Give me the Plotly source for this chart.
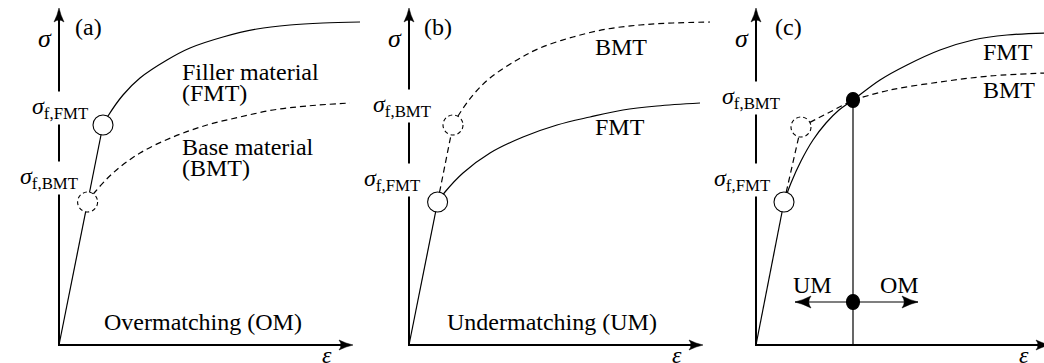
import plotly.graph_objects as go

# ---------------------------------------------------------------------------
# Schematic stress-strain curves (arbitrary units)
# ---------------------------------------------------------------------------
# yield points on the common elastic line
yield_high = (0.44, 2.20)
yield_low = (0.286, 1.43)

# hardening curve that starts at the higher yield point
hard_high_strain = [0.44, 0.49, 0.64, 0.81, 1.08, 1.31, 1.64, 1.98, 2.31, 2.64, 3.01]
hard_high_stress = [2.20, 2.29, 2.50, 2.67, 2.85, 2.97, 3.08, 3.16, 3.20, 3.22, 3.23]

# hardening curve that starts at the lower yield point
hard_low_strain = [0.286, 0.36, 0.54, 0.81, 1.14, 1.48, 1.81, 2.14, 2.48, 2.91]
hard_low_stress = [1.43, 1.53, 1.72, 1.92, 2.08, 2.20, 2.28, 2.35, 2.39, 2.42]

# panel (c): curves that cross each other
c_yield_fmt = (0.28, 1.43)
c_yield_bmt = (0.45, 2.18)
c_cross = (0.97, 2.45)
c_fmt_strain = [0.28, 0.35, 0.45, 0.57, 0.70, 0.83, 0.97, 1.24, 1.51, 1.84, 2.17, 2.51, 2.90]
c_fmt_stress = [1.43, 1.62, 1.84, 2.05, 2.22, 2.35, 2.45, 2.65, 2.80, 2.95, 3.05, 3.10, 3.12]
c_bmt_strain_post = [0.97, 1.34, 1.84, 2.34, 2.90]
c_bmt_stress_post = [2.45, 2.55, 2.63, 2.69, 2.72]
c_marker_stress = 0.43
c_arrow_strain = [0.39, 1.62]

# axis extents
axis_tip_strain = 2.94
axis_tip_stress = 3.37

panel_tags = ["(a)", "(b)", "(c)"]
panel_titles = ["Overmatching (OM)", "Undermatching (UM)"]

FONT = "Liberation Serif"
FS = 24
W, H = 1044, 363
PX = 100.0  # pixels per unit

# subplot placement (pixels): left edge of domain, right edge, origin x
panels = [(0, 365, 59), (350, 715, 409), (697, 1044, 756)]

fig = go.Figure()
layout = dict(
    width=W, height=H, margin=dict(l=0, r=0, t=0, b=0),
    paper_bgcolor="white", plot_bgcolor="rgba(0,0,0,0)",
    showlegend=False,
)
y_range = [-18 / PX, (H - 18) / PX]
for i, (left, right, x0) in enumerate(panels):
    sfx = "" if i == 0 else str(i + 1)
    layout["xaxis" + sfx] = dict(domain=[left / W, right / W],
                                 range=[(left - x0) / PX, (right - x0) / PX],
                                 visible=False, anchor="y" + sfx, fixedrange=True)
    layout["yaxis" + sfx] = dict(domain=[0, 1], range=y_range, visible=False,
                                 anchor="x" + sfx, fixedrange=True)
fig.update_layout(**layout)

SOLID = dict(color="black", width=1.2)
DASHED = dict(color="black", width=1.2, dash="6px,4px")


def refs(i):
    sfx = "" if i == 0 else str(i + 1)
    return "x" + sfx, "y" + sfx


def curve(i, xs, ys, line, shape="spline"):
    xr, yr = refs(i)
    fig.add_trace(go.Scatter(x=xs, y=ys, mode="lines", line=dict(shape=shape, **line),
                             xaxis=xr, yaxis=yr, hoverinfo="skip"))


def circle(i, pt, dashed=False, filled=False, rx=10, ry=10):
    xr, yr = refs(i)
    fig.add_shape(type="circle", xref=xr, yref=yr, xsizemode="pixel", ysizemode="pixel",
                  xanchor=pt[0], yanchor=pt[1], x0=-rx, x1=rx, y0=-ry, y1=ry,
                  fillcolor="black" if filled else "white",
                  line=dict(color="black", width=1.1, dash="4px,3px" if dashed else "solid"),
                  layer="above")


def arrowhead(i, pt, direction, length=14, half=5):
    xr, yr = refs(i)
    L, h = length, half
    if direction == "right":
        p = f"M0,0 Q{-L*0.5},{h*0.3} {-L},{h} Q{-L*0.72},0 {-L},{-h} Q{-L*0.5},{-h*0.3} 0,0 Z"
    elif direction == "left":
        p = f"M0,0 Q{L*0.5},{h*0.3} {L},{h} Q{L*0.72},0 {L},{-h} Q{L*0.5},{-h*0.3} 0,0 Z"
    else:  # up
        p = f"M0,0 Q{h*0.3},{-L*0.5} {h},{-L} Q0,{-L*0.72} {-h},{-L} Q{-h*0.3},{-L*0.5} 0,0 Z"
    fig.add_shape(type="path", xref=xr, yref=yr, xsizemode="pixel", ysizemode="pixel",
                  xanchor=pt[0], yanchor=pt[1], path=p, fillcolor="black",
                  line=dict(color="black", width=0.5), layer="above")


def text(i, x, y, s, xanchor="center", bg=False, size=FS):
    xr, yr = refs(i)
    fig.add_annotation(x=x, y=y, xref=xr, yref=yr, text=s, showarrow=False,
                       xanchor=xanchor, yanchor="middle",
                       font=dict(family=FONT, size=size, color="black"),
                       bgcolor="white" if bg else None, borderpad=1)


def axes(i):
    xr, yr = refs(i)
    notch = 10 / PX
    fig.add_shape(type="path", xref=xr, yref=yr,
                  path=f"M0,{axis_tip_stress - notch} L0,0 L{axis_tip_strain - notch},0",
                  line=dict(color="black", width=2), layer="below")
    arrowhead(i, (0, axis_tip_stress), "up")
    arrowhead(i, (axis_tip_strain, 0), "right")
    text(i, -0.14, 3.07, "<i>σ</i>", size=26)
    text(i, 2.68, -0.10, "<i>ε</i>")


SIG_FMT = "<i>σ</i><sub>f,FMT</sub>"
SIG_BMT = "<i>σ</i><sub>f,BMT</sub>"

# ---------------- (a) overmatching ----------------
axes(0)
curve(0, [0, yield_high[0]], [0, yield_high[1]], SOLID, "linear")
curve(0, hard_high_strain, hard_high_stress, SOLID)
curve(0, hard_low_strain, hard_low_stress, DASHED)
circle(0, yield_high)
circle(0, yield_low, dashed=True)
text(0, 0.29, 3.18, panel_tags[0])
text(0, 0.31, 2.37, SIG_FMT, "right", bg=True)
text(0, 0.21, 1.67, SIG_BMT, "right", bg=True)
text(0, 1.21, 2.73, "Filler material", "left")
text(0, 1.21, 2.52, "(FMT)", "left")
text(0, 1.21, 1.98, "Base material", "left")
text(0, 1.21, 1.77, "(BMT)", "left")
text(0, 1.44, 0.23, panel_titles[0])

# ---------------- (b) undermatching ----------------
axes(1)
curve(1, [0, yield_low[0]], [0, yield_low[1]], SOLID, "linear")
curve(1, [yield_low[0], yield_high[0]], [yield_low[1], yield_high[1]], DASHED, "linear")
curve(1, hard_high_strain, hard_high_stress, DASHED)
curve(1, hard_low_strain, hard_low_stress, SOLID)
circle(1, yield_low)
circle(1, yield_high, dashed=True)
text(1, 0.29, 3.18, panel_tags[1])
text(1, 0.24, 2.39, SIG_BMT, "right", bg=True)
text(1, 0.13, 1.65, SIG_FMT, "right", bg=True)
text(1, 1.84, 2.98, "BMT", "left")
text(1, 1.84, 2.18, "FMT", "left")
text(1, 1.43, 0.23, panel_titles[1])

# ---------------- (c) crossing curves ----------------
axes(2)
curve(2, [0, c_yield_fmt[0]], [0, c_yield_fmt[1]], SOLID, "linear")
curve(2, [c_yield_fmt[0], c_yield_bmt[0]], [c_yield_fmt[1], c_yield_bmt[1]], DASHED, "linear")
curve(2, c_fmt_strain, c_fmt_stress, SOLID)
curve(2, [c_yield_bmt[0], c_cross[0]], [c_yield_bmt[1], c_cross[1]], DASHED, "linear")
curve(2, c_bmt_strain_post, c_bmt_stress_post, DASHED)
curve(2, [c_cross[0], c_cross[0]], [0, c_cross[1]], SOLID, "linear")
curve(2, c_arrow_strain, [c_marker_stress, c_marker_stress], SOLID, "linear")
arrowhead(2, (c_arrow_strain[0], c_marker_stress), "left", 16, 6)
arrowhead(2, (c_arrow_strain[1], c_marker_stress), "right", 16, 6)
circle(2, c_yield_fmt)
circle(2, c_yield_bmt, dashed=True)
circle(2, c_cross, filled=True, rx=6.5, ry=7.5)
circle(2, (c_cross[0], c_marker_stress), filled=True, rx=6.5, ry=7.5)
text(2, 0.32, 3.18, panel_tags[2])
text(2, 0.26, 2.47, SIG_BMT, "right", bg=True)
text(2, 0.16, 1.65, SIG_FMT, "right", bg=True)
text(2, 2.25, 2.93, "FMT", "left")
text(2, 2.25, 2.55, "BMT", "left")
text(2, 0.56, 0.60, "UM")
text(2, 1.43, 0.60, "OM")

fig.write_html("out.html")
